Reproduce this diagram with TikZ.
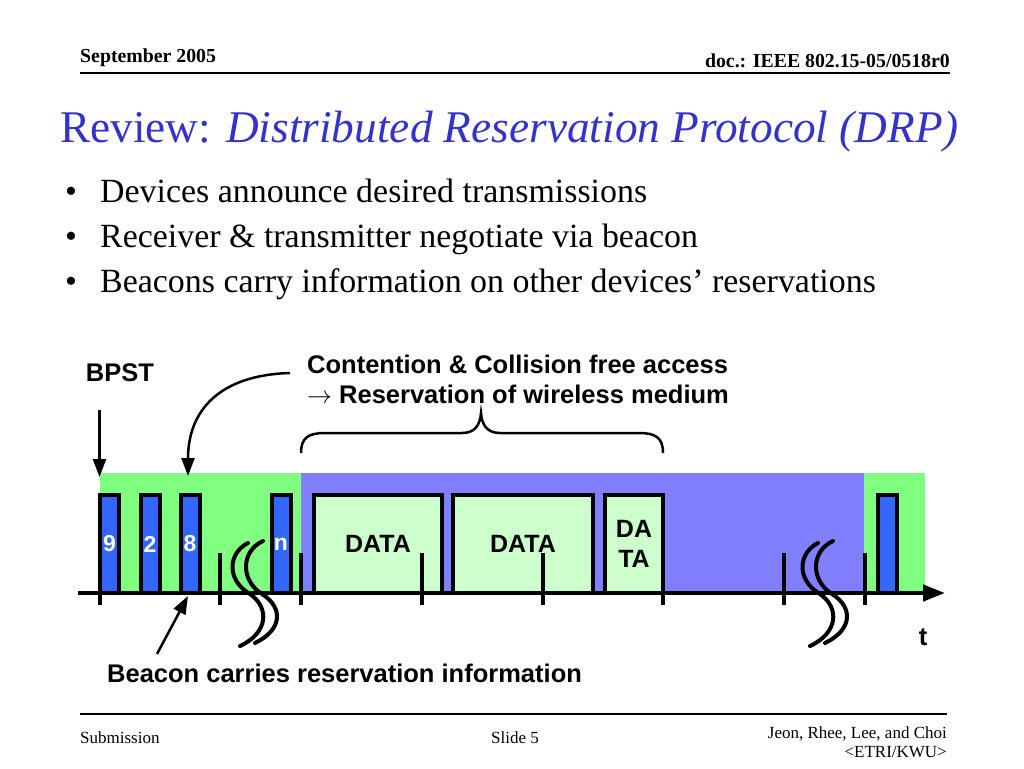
\documentclass[tikz,border=0pt]{standalone}
\usepackage{fontspec}
\setmainfont{Liberation Serif}
\newfontfamily\arial{Liberation Sans}
\newfontfamily\djv{DejaVu Sans}
\usetikzlibrary{arrows.meta}
\definecolor{titleblue}{RGB}{51,51,204}
\definecolor{bggreen}{RGB}{128,255,128}
\definecolor{bgblue}{RGB}{128,128,255}
\definecolor{slotblue}{RGB}{51,102,255}
\definecolor{datagreen}{RGB}{204,255,204}
\tikzset{
  hdr/.style={inner sep=0, font=\bfseries\fontsize{19.8}{22}\selectfont},
  ftr/.style={inner sep=0, font=\fontsize{17}{20}\selectfont},
  bul/.style={inner sep=0, font=\fontsize{33.9}{40}\selectfont},
  lbl/.style={inner sep=0, font=\arial\bfseries\fontsize{25.5}{30}\selectfont},
  slot/.style={draw=black, fill=slotblue, line width=4pt, minimum width=19pt,
    minimum height=98pt, inner sep=0, text=white,
    font=\arial\bfseries\fontsize{23}{26}\selectfont},
  databox/.style={draw=black, fill=datagreen, line width=4pt, minimum height=98pt,
    inner sep=0, align=center, font=\arial\bfseries\fontsize{25}{30}\selectfont},
  tick/.style={line width=4pt},
  brk/.style={line width=4pt, line cap=round},
  arr/.style={line width=2.5pt, -{Triangle[length=18pt,width=13pt]}},
  rule/.style={line width=1.8pt},
}
\begin{document}
\begin{tikzpicture}[x=1pt,y=-1pt]
\useasboundingbox (0,0) rectangle (1024,768);
% header
\node[hdr, anchor=base west] (date) at (80,63) {September 2005};
\node[hdr, anchor=base east] (doc) at (950,67) {doc.: IEEE 802.15-05/0518r0};
\coordinate (hl) at (80,73); \coordinate (hr) at (950,73);
\draw[rule] (hl) -- (hr);
% title
\node[inner sep=0, anchor=base west, text=titleblue, font=\fontsize{45.3}{54}\selectfont] (title) at (60,142)
  {Review: \textit{Distributed Reservation Protocol (DRP)}};
% bullets
\node[bul, anchor=base] (b1d) at (71,202) {•};
\node[bul, anchor=base west] (b1) at (100,202) {Devices announce desired transmissions};
\node[bul, anchor=base] (b2d) at (71,247) {•};
\node[bul, anchor=base west] (b2) at (100,247) {Receiver \& transmitter negotiate via beacon};
\node[bul, anchor=base] (b3d) at (71,292) {•};
\node[bul, anchor=base west] (b3) at (100,292) {Beacons carry information on other devices’ reservations};
% backgrounds
\fill[bggreen] (100,473) rectangle (301,593);
\fill[bgblue] (301,473) rectangle (864,593);
\fill[bggreen] (864,473) rectangle (925,593);
% beacon slots
\node[slot] (s9) at (109.5,544) {9};
\node[slot] (s2) at (150,544) {2};
\node[slot] (s8) at (190,544) {8};
\node[slot] (sn) at (281,544) {n};
\node[slot] (sl) at (887,544) {};
% data boxes
\node[databox, minimum width=128pt] (d1) at (378,544) {DATA};
\node[databox, minimum width=140pt] (d2) at (523,544) {DATA};
\node[databox, minimum width=58pt] (d3) at (634,544) {DA\\TA};
% ticks
\foreach \x in {220,301,422,543,784,865} {\draw[tick] (\x,553) -- (\x,605);}
\foreach \x in {99.5,663} {\draw[tick] (\x,590) -- (\x,605);}
% axis
\coordinate (ax0) at (78,593); \coordinate (ax1) at (945,593);
\draw[line width=4.5pt, -{Triangle[length=22pt,width=16pt]}] (ax0) -- (ax1);
% breaks
\foreach \s in {0,570} {
  \begin{scope}[xshift=\s]
  \draw[brk] (248,543) .. controls (228,553) and (226,580) .. (250,594)
                       .. controls (270,608) and (268,633) .. (240,646);
  \draw[brk] (263,541) .. controls (241,551) and (240,580) .. (262,594)
                       .. controls (284,608) and (282,630) .. (255,643);
  \end{scope}
}
% brace
\draw[line width=2.5pt] (301,453) .. controls (301,438) and (308,433) .. (325,433) -- (462,433)
  .. controls (475,433) and (480,425) .. (481,413)
  .. controls (482,425) and (487,433) .. (500,433) -- (639,433)
  .. controls (656,433) and (663,438) .. (663,453);
% labels
\node[lbl, anchor=base] (bpst) at (120,381) {BPST};
\node[lbl, anchor=base west] (cf1) at (307,373) {Contention \& Collision free access};
\node[lbl, anchor=base west] (cf2) at (307,403) {{\fontsize{23}{26}\selectfont$\rightarrow$}\ Reservation of wireless medium};
\node[lbl, anchor=base west] (bcn) at (107,682) {Beacon carries reservation information};
\node[lbl, anchor=base] (t) at (923,645) {t};
% arrows
\coordinate (bpstA) at (99.5,410); \coordinate (bpstB) at (99.5,477);
\draw[arr] (bpstA) -- (bpstB);
\coordinate (cfA) at (290,373); \coordinate (cfB) at (188,476);
\draw[arr] (cfA) .. controls (220,375) and (188,410) .. (cfB);
\coordinate (bcA) at (157,654); \coordinate (bcB) at (188,596);
\draw[arr] (bcA) -- (bcB);
% footer
\coordinate (fl) at (80,714); \coordinate (fr) at (947,714);
\draw[line width=1.5pt] (fl) -- (fr);
\node[ftr, anchor=base west] (sub) at (80,743) {Submission};
\node[ftr, anchor=base] (slide) at (515,743) {Slide 5};
\node[ftr, anchor=base east] (auth) at (947,738) {Jeon, Rhee, Lee, and Choi};
\node[ftr, anchor=base east] (org) at (947,757) {<ETRI/KWU>};
\end{tikzpicture}
\end{document}
